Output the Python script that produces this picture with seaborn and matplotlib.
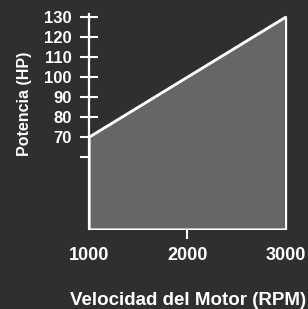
import matplotlib
matplotlib.use("Agg")
import matplotlib.pyplot as plt
import seaborn as sns
import pandas as pd

rpm = [1000, 3000]
hp = [70, 130]
y_ticks = [60, 70, 80, 90, 100, 110, 120, 130]
y_labels = ["", "70", "80", "90", "100", "110", "120", "130"]
x_ticks = [1000, 2000, 3000]

bg = "#2f2f2f"
fill = "#666666"

sns.set_theme(style="dark", rc={
    "axes.facecolor": bg,
    "figure.facecolor": bg,
    "text.color": "white",
    "axes.labelcolor": "white",
    "xtick.color": "white",
    "ytick.color": "white",
})
plt.rcParams["font.family"] = ["Liberation Sans", "DejaVu Sans"]

df = pd.DataFrame({"rpm": rpm, "hp": hp})

fig = plt.figure(figsize=(3.08, 3.09), dpi=100)
ax = fig.add_axes([0.289, 0.259, 0.643, 0.696])

ax.fill_between(df["rpm"], df["hp"], 24, color=fill, edgecolor="white",
                linewidth=1.5, zorder=2)
sns.lineplot(data=df, x="rpm", y="hp", color="white", linewidth=1.6, ax=ax, zorder=3)

ax.set_xlim(1000, 3015)
ax.set_ylim(24, 131.5)

for s in ["top", "right", "bottom"]:
    ax.spines[s].set_visible(False)
ax.spines["left"].set_color("white")
ax.spines["left"].set_linewidth(1.6)
ax.spines["left"].set_zorder(4)

ax.set_yticks(y_ticks)
ax.set_yticklabels(y_labels, fontsize=12, fontweight="bold")
ax.set_xticks(x_ticks)
ax.set_xticklabels([str(v) for v in x_ticks], fontsize=13, fontweight="bold")
ax.tick_params(axis="y", left=True, direction="inout", length=13, width=1.5, pad=6)
ax.tick_params(axis="x", bottom=True, direction="inout", length=14, width=1.5, pad=6)
for t in ax.xaxis.get_major_ticks() + ax.yaxis.get_major_ticks():
    t.tick1line.set_zorder(5)
# only the middle x tick shows as a mark
xt = ax.xaxis.get_major_ticks()
xt[0].tick1line.set_visible(False)
xt[-1].tick1line.set_visible(False)

ax.set_xlabel("Velocidad del Motor (RPM)", fontsize=13.5, fontweight="bold", labelpad=20)
ax.set_ylabel("Potencia (HP)", fontsize=11.5, fontweight="bold")
ax.yaxis.set_label_coords(-0.29, 0.58)
ax.grid(False)

fig.savefig("out.png", dpi=100, facecolor=bg)
